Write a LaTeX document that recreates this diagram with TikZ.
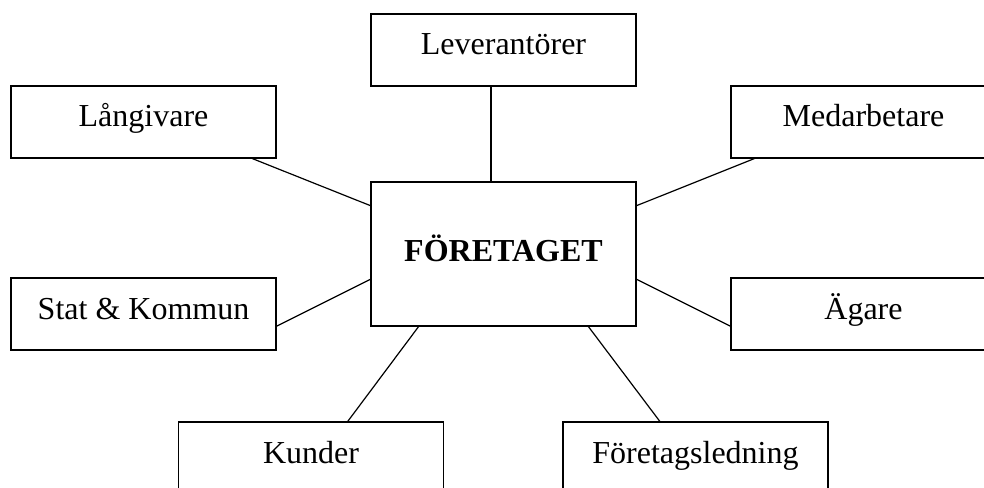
\documentclass[tikz,border=0pt]{standalone}
\usepackage{fontspec}
\setmainfont{Liberation Serif}
\usetikzlibrary{calc}
\begin{document}
\begin{tikzpicture}[x=0.75pt,y=-0.75pt,
  box/.style={draw,line width=0.9pt,rectangle,inner sep=0pt,
    minimum width=198.75pt,minimum height=54pt,
    text height=16.5pt,text depth=9pt,
    font=\fontsize{24}{28}\selectfont},
  bigbox/.style={box,minimum height=108pt,text height=18pt,text depth=7.5pt,
    font=\fontsize{24}{28}\selectfont\bfseries},
  conn/.style={line width=0.9pt}]
\useasboundingbox (0,0) rectangle (984,488);
\clip (0,0) rectangle (984,488);
\node[box] (lev) at (503.5,50) {Leverantörer};
\node[box] (lang) at (143.5,122) {Långivare};
\node[box] (med) at (863.5,122) {Medarbetare};
\node[bigbox] (fore) at (503.5,254) {FÖRETAGET};
\node[box] (stat) at (143.5,314) {Stat \& Kommun};
\node[box] (agare) at (863.5,314) {Ägare};
\node[box] (kund) at (311,458) {Kunder};
\node[box] (ledn) at (695.5,458) {Företagsledning};
\draw[conn] ($(lev.south west)!0.453!(lev.south east)$) -- ($(fore.north west)!0.453!(fore.north east)$);
\draw[conn] ($(lang.south west)!0.909!(lang.south east)$) -- ($(fore.north west)!0.167!(fore.south west)$);
\draw[conn] ($(med.south west)!0.09!(med.south east)$) -- ($(fore.north east)!0.167!(fore.south east)$);
\draw[conn] ($(stat.north east)!0.667!(stat.south east)$) -- ($(fore.north west)!0.674!(fore.south west)$);
\draw[conn] ($(agare.north west)!0.667!(agare.south west)$) -- ($(fore.north east)!0.674!(fore.south east)$);
\draw[conn] ($(kund.north west)!0.638!(kund.north east)$) -- ($(fore.south west)!0.181!(fore.south east)$);
\draw[conn] ($(ledn.north west)!0.366!(ledn.north east)$) -- ($(fore.south west)!0.819!(fore.south east)$);
\end{tikzpicture}
\end{document}
